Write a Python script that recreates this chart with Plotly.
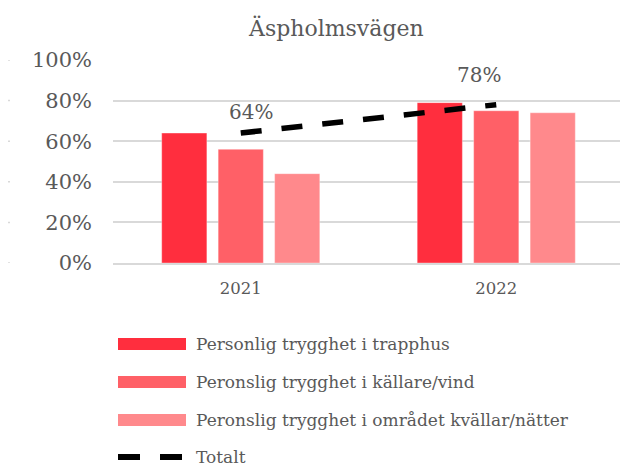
import plotly.graph_objects as go

years = ["2021", "2022"]
series_names = [
    "Personlig trygghet i trapphus",
    "Peronslig trygghet i källare/vind",
    "Peronslig trygghet i området kvällar/nätter",
]
trapphus = [0.64, 0.79]
kallare = [0.56, 0.75]
omradet = [0.44, 0.74]
totalt_name = "Totalt"
totalt = [0.64, 0.78]
title_text = "Äspholmsvägen"

colors = ["#FF2E3E", "#FF6067", "#FF898C"]
gray = "#595959"
FONT = "DejaVu Serif"

OFF = 8  # page body margin
W, H = 628 - OFF, 466 - OFF
L, T = 113 - OFF, 60 - OFF
R = W - (624 - OFF)
B = H - (263 - OFF)
PW = W - L - R
PH = H - T - B


def px(x):
    return (x - OFF - L) / PW


def py(y):
    return (H - B - (y - OFF)) / PH


fig = go.Figure()
for name, vals, c in zip(series_names, [trapphus, kallare, omradet], colors):
    fig.add_trace(go.Bar(
        x=years, y=vals, name=name, marker_color=c,
        marker_line=dict(color="rgba(255,255,255,0.35)", width=1),
        showlegend=False,
    ))

fig.add_trace(go.Scatter(
    x=years, y=totalt, name=totalt_name, mode="lines",
    line=dict(color="black", width=5.5, dash="21px,20px"),
    showlegend=False,
))

annotations = []
# data labels for Totalt (x given as category index)
label_shifts = [(10, 21), (-17, 30)]
for i, (yv, (dx, dy)) in enumerate(zip(totalt, label_shifts)):
    annotations.append(dict(
        x=i, y=yv, xref="x", yref="y", text=f"{round(yv*100)}%",
        showarrow=False, xshift=dx, yshift=dy,
        font=dict(family=FONT, size=20, color=gray),
    ))

# title
annotations.append(dict(
    x=px(336), y=py(28), xref="paper", yref="paper", text=title_text,
    showarrow=False, xanchor="center", yanchor="middle",
    font=dict(family=FONT, size=22, color=gray),
))

shapes = []
# legend (manual)
item_y = [344, 382, 420, 457]
for name, c, yy in zip(series_names, colors, item_y[:3]):
    shapes.append(dict(type="rect", xref="paper", yref="paper",
                       x0=px(118), x1=px(186), y0=py(yy - 6), y1=py(yy + 6),
                       fillcolor=c, line=dict(width=0)))
    annotations.append(dict(x=px(194), y=py(yy), xref="paper", yref="paper",
                            text=name, showarrow=False, xanchor="left", yanchor="middle",
                            font=dict(family=FONT, size=17, color=gray)))
for x0, x1 in [(118, 140), (160, 182)]:
    shapes.append(dict(type="line", xref="paper", yref="paper",
                       x0=px(x0), x1=px(x1), y0=py(item_y[3]), y1=py(item_y[3]),
                       line=dict(color="black", width=6)))
annotations.append(dict(x=px(194), y=py(item_y[3]), xref="paper", yref="paper",
                        text=totalt_name, showarrow=False, xanchor="left", yanchor="middle",
                        font=dict(family=FONT, size=17, color=gray)))

# remnant gridline stubs at the left edge
for v in [0, 0.2, 0.4, 0.6, 0.8, 1.0]:
    shapes.append(dict(type="line", xref="paper", yref="y",
                       x0=px(0), x1=px(10), y0=v, y1=v,
                       line=dict(color="#d9d9d9", width=1.5)))

fig.update_layout(
    width=W, height=H,
    margin=dict(l=L, r=R, t=T, b=B, autoexpand=False),
    paper_bgcolor="white", plot_bgcolor="white",
    barmode="group", bargap=0.337, bargroupgap=0.2,
    annotations=annotations, shapes=shapes,
    showlegend=False,
    font=dict(family=FONT, color=gray),
)
fig.update_yaxes(
    range=[0, 1], tickvals=[0, 0.2, 0.4, 0.6, 0.8, 1.0], tickformat=".0%",
    showgrid=True, gridcolor="#d9d9d9", gridwidth=1.5,
    zeroline=False, showline=False, ticks="",
    tickfont=dict(family=FONT, size=21, color=gray),
    ticklabelstandoff=20, automargin=False,
)
fig.update_xaxes(
    type="category", range=[-0.5, 1.5], autorange=False,
    showgrid=False, showline=True, linecolor="#d9d9d9", linewidth=1.5,
    ticks="", tickfont=dict(family=FONT, size=16.5, color=gray),
    ticklabelstandoff=9, automargin=False,
)

fig.write_html("out.html")
